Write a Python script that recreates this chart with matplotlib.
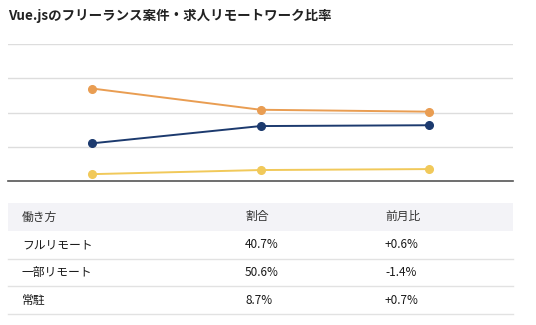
import matplotlib
matplotlib.use('Agg')
import matplotlib.pyplot as plt
from matplotlib.patches import Rectangle

plt.rcParams['font.family'] = ['Noto Sans CJK JP', 'DejaVu Sans']

# 月ごとの比率（%）
months = ['m1', 'm2', 'm3']
full_remote = [27.5, 40.1, 40.7]
part_remote = [67.5, 52.0, 50.6]
onsite = [5.0, 8.0, 8.7]

# 表のデータ
table_header = ['働き方', '割合', '前月比']
table_rows = [
    ['フルリモート', '40.7%', '+0.6%'],
    ['一部リモート', '50.6%', '-1.4%'],
    ['常駐', '8.7%', '+0.7%'],
]

W, H = 536, 325
fig = plt.figure(figsize=(W / 100, H / 100), dpi=100)

# タイトル
fig.text(8 / W, 1 - 16 / H, 'Vue.jsのフリーランス案件・求人リモートワーク比率',
         fontsize=9.7, fontweight='bold', va='center', ha='left', color='#222222')

# 折れ線グラフ
ax = fig.add_axes([8 / W, 1 - 181 / H, 505 / W, 137 / H])
x = range(len(months))
ax.plot(x, part_remote, color='#e99d52', lw=1.4, marker='o', ms=5.5, zorder=3)
ax.plot(x, full_remote, color='#1c3a6e', lw=1.4, marker='o', ms=5.5, zorder=3)
ax.plot(x, onsite, color='#f1c95a', lw=1.4, marker='o', ms=5.5, zorder=3)
ax.set_xlim(-0.5, 2.5)
ax.set_ylim(0, 100)
ax.set_yticks([25, 50, 75, 100])
ax.grid(axis='y', color='#dddddd', lw=1)
ax.set_xticks([])
ax.tick_params(left=False, labelleft=False)
for s in ['top', 'left', 'right']:
    ax.spines[s].set_visible(False)
ax.spines['bottom'].set_color('#555555')
ax.spines['bottom'].set_linewidth(1.2)
ax.set_facecolor('none')
ax.set_clip_on(False)

# 表
tax = fig.add_axes([0, 0, 1, 1])
tax.set_xlim(0, W)
tax.set_ylim(H, 0)
tax.axis('off')
col_x = [22, 245, 385]
row_h = 27.8
top = 203
tax.add_patch(Rectangle((8, top), 505, row_h, color='#f3f3f7', lw=0))
for j, t in enumerate(table_header):
    tax.text(col_x[j], top + row_h / 2, t, fontsize=8.5, va='center', ha='left', color='#333333')
for i, row in enumerate(table_rows):
    yc = top + row_h * (i + 1.5)
    for j, t in enumerate(row):
        tax.text(col_x[j], yc, t, fontsize=8.5, va='center', ha='left', color='#1a1a1a')
    tax.plot([8, 513], [top + row_h * (i + 2)] * 2, color='#e2e2e2', lw=1)

fig.savefig('out.png', dpi=100)
